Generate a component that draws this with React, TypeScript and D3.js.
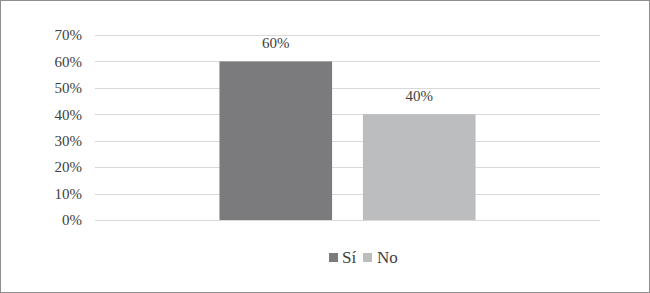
import * as d3 from 'd3';

// single category, two series
const series = ['Sí', 'No'];
const values = [0.6, 0.4];
const colors = ['#7b7b7e', '#bcbdbf'];
const ticks = [0, 0.1, 0.2, 0.3, 0.4, 0.5, 0.6, 0.7];

const W = 650;
const H = 293;
const font = '"Liberation Serif", serif';

export default function App() {
  const y = d3.scaleLinear().domain([0, 0.7]).range([220, 35]);
  const outer = d3.scaleBand().domain(['cat']).range([95, 600]).paddingInner(0).paddingOuter(0.486);
  const inner = d3.scaleBand().domain(series).range([0, outer.bandwidth()]).paddingInner(0.215);
  const fmt = d3.format('.0%');
  const x0 = outer('cat') ?? 0;

  return (
    <div style={{ position: 'fixed', left: 0, top: 0 }}>
      <svg width={W} height={H} style={{ display: 'block', background: '#fff' }}>
        <rect x={0.5} y={0.5} width={W - 1} height={H - 1} fill="#fff" stroke="#8e8e8e" />

        {/* grid + ticks */}
        {ticks.map(t => (
          <g key={t}>
            <line x1={95} x2={600} y1={Math.round(y(t)) + 0.5} y2={Math.round(y(t)) + 0.5}
              stroke="#d9d9d9" strokeWidth={1.2} />
            <text x={82} y={y(t)} dy="0.35em" textAnchor="end" fontFamily={font}
              fontSize={15} fill="#404040">{fmt(t)}</text>
          </g>
        ))}

        {/* bars */}
        {series.map((s, i) => {
          const bx = x0 + (inner(s) ?? 0);
          return (
            <g key={s}>
              <rect x={bx} y={y(values[i])} width={inner.bandwidth()} height={y(0) - y(values[i])}
                fill={colors[i]} />
              <text x={bx + inner.bandwidth() / 2} y={y(values[i]) - 13} textAnchor="middle"
                fontFamily={font} fontSize={15} fill="#404040">{fmt(values[i])}</text>
            </g>
          );
        })}

        {/* legend */}
        <g fontFamily={font} fontSize={17} fill="#404040">
          <rect x={329} y={253} width={9} height={9} fill={colors[0]} />
          <text x={342} y={263}>{series[0]}</text>
          <rect x={363} y={253} width={9} height={9} fill={colors[1]} />
          <text x={377} y={263}>{series[1]}</text>
        </g>
      </svg>
    </div>
  );
}
